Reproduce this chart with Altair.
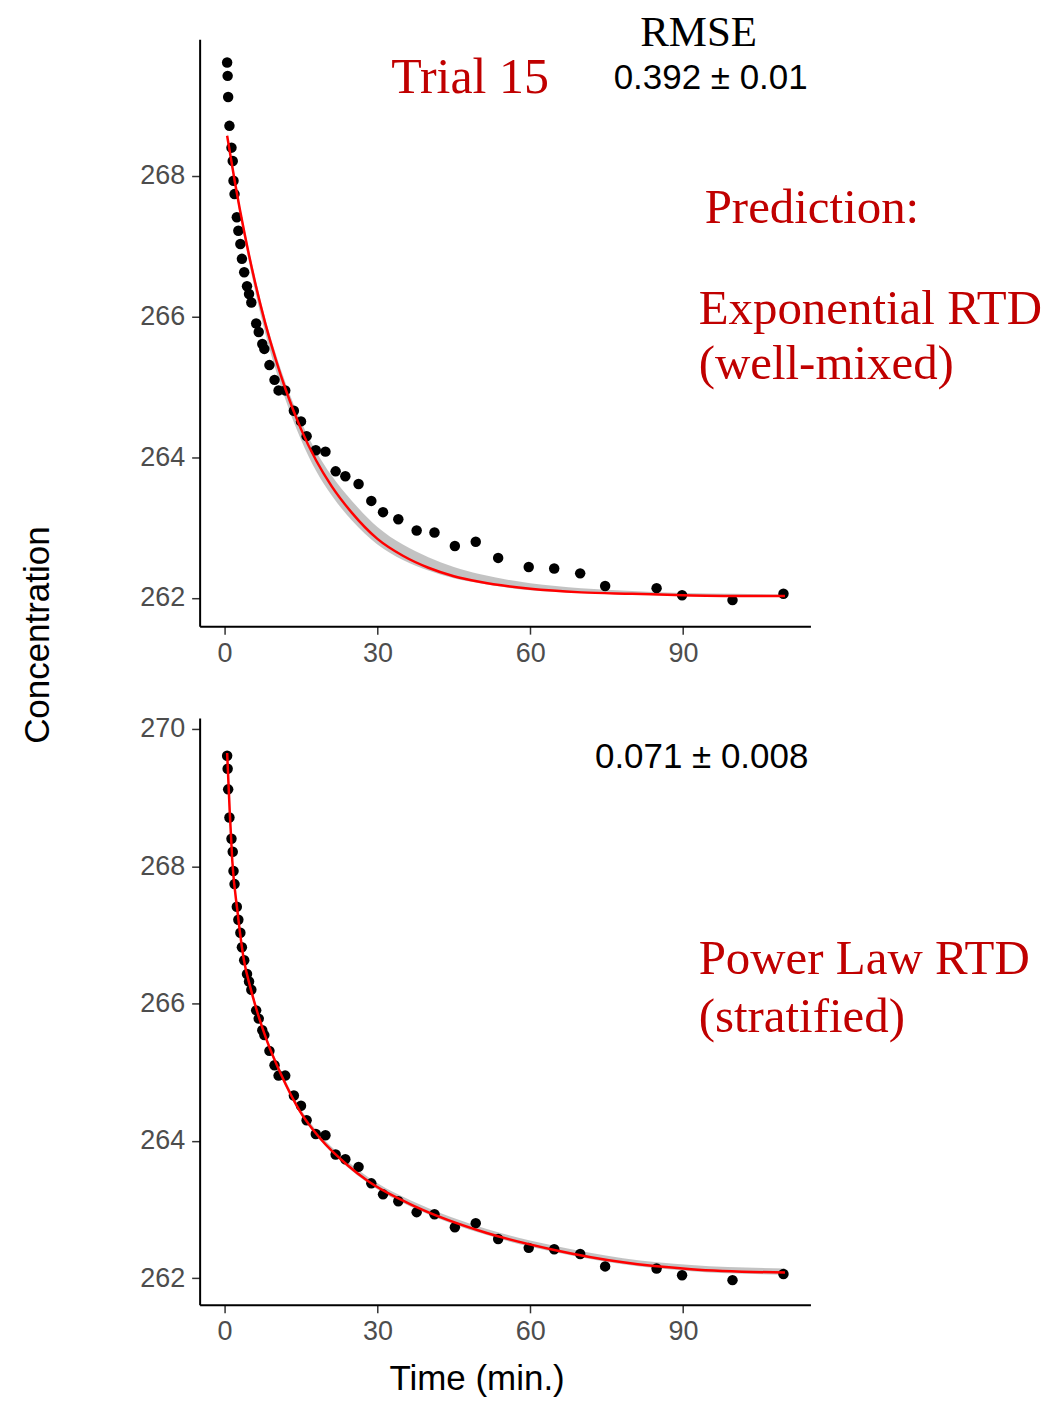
import altair as alt
import pandas as pd

# ---- observed data (same in both panels) ----
time = [0.5, 0.6, 0.7, 0.95, 1.35, 1.6, 1.75, 1.95, 2.4, 2.7, 3.1, 3.4, 3.85, 4.4, 4.8,
        5.25, 6.2, 6.7, 7.4, 7.8, 8.8, 9.8, 10.6, 11.9, 13.6, 15.0, 16.1, 17.9, 19.8,
        21.8, 23.7, 26.3, 28.8, 31.1, 34.1, 37.7, 41.2, 45.2, 49.3, 53.7, 59.7, 64.7,
        69.8, 74.7, 84.8, 89.8, 99.7, 109.7]
conc = [269.61, 269.42, 269.12, 268.71, 268.40, 268.21, 267.93, 267.74, 267.41, 267.22,
        267.03, 266.82, 266.63, 266.43, 266.32, 266.20, 265.90, 265.78, 265.61, 265.54,
        265.31, 265.10, 264.95, 264.95, 264.66, 264.51, 264.30, 264.10, 264.08, 263.80,
        263.73, 263.62, 263.38, 263.22, 263.12, 262.96, 262.93, 262.74, 262.80, 262.57,
        262.44, 262.42, 262.35, 262.17, 262.14, 262.04, 261.97, 262.06]

# ---- exponential RTD prediction (top) ----
exp_t = [0.5, 2, 4, 6, 8, 10, 12, 15, 18, 21, 25, 30, 35, 40, 45, 50, 60, 70, 80, 90, 100, 110]
exp_fit = [268.57, 267.92, 267.15, 266.48, 265.90, 265.40, 264.96, 264.40, 263.95, 263.59,
           263.21, 262.84, 262.60, 262.43, 262.31, 262.23, 262.13, 262.08, 262.06, 262.04,
           262.03, 262.03]
exp_lo = [268.54, 267.86, 267.06, 266.36, 265.76, 265.25, 264.81, 264.25, 263.80, 263.46,
          263.10, 262.76, 262.54, 262.39, 262.28, 262.21, 262.11, 262.07, 262.05, 262.03,
          262.02, 262.02]
exp_hi = [268.60, 267.96, 267.21, 266.55, 265.97, 265.48, 265.05, 264.51, 264.08, 263.74,
          263.38, 263.01, 262.76, 262.58, 262.44, 262.34, 262.21, 262.14, 262.10, 262.07,
          262.06, 262.05]

# ---- power-law RTD prediction (bottom) ----
pow_t = [0.5, 1.0, 1.5, 2.5, 3.8, 5.0, 6.4, 8.3, 11.0, 14.8, 18.7, 24.2, 28.0, 37.8, 51.3,
         64.7, 78.2, 91.6, 110]
pow_fit = [269.65, 268.81, 268.09, 267.36, 266.63, 266.25, 265.88, 265.46, 264.98, 264.43,
           264.04, 263.64, 263.42, 263.03, 262.66, 262.41, 262.23, 262.13, 262.08]
pow_lo = [269.62, 268.78, 268.06, 267.33, 266.60, 266.22, 265.85, 265.43, 264.95, 264.40,
          264.01, 263.61, 263.39, 263.00, 262.63, 262.38, 262.20, 262.10, 262.05]
pow_hi = [269.69, 268.86, 268.14, 267.41, 266.68, 266.30, 265.93, 265.51, 265.03, 264.48,
          264.09, 263.70, 263.48, 263.09, 262.72, 262.47, 262.29, 262.19, 262.14]

x_ticks = [0, 30, 60, 90]
y_ticks_top = [262, 264, 266, 268]
y_ticks_bot = [262, 264, 266, 268, 270]

obs = pd.DataFrame({"t": time, "c": conc})
exp_df = pd.DataFrame({"t": exp_t, "fit": exp_fit, "lo": exp_lo, "hi": exp_hi})
pow_df = pd.DataFrame({"t": pow_t, "fit": pow_fit, "lo": pow_lo, "hi": pow_hi})

W, H = 612, 588
SANS = "Liberation Sans"
SERIF = "Liberation Serif"
RED = "#c00000"

xscale = alt.Scale(domain=[-4.9, 115], nice=False, zero=False)


def xaxis():
    return alt.Axis(values=x_ticks, title=None, grid=False, format="d")


def panel(fit_df, ydomain, yticks):
    yscale = alt.Scale(domain=ydomain, nice=False, zero=False)
    yax = alt.Axis(values=yticks, title=None, grid=False, format="d")
    band = alt.Chart(fit_df).mark_area(color="#bdbdbd", opacity=0.9, interpolate="monotone").encode(
        x=alt.X("t:Q", scale=xscale, axis=xaxis()),
        y=alt.Y("lo:Q", scale=yscale, axis=yax),
        y2="hi:Q",
    )
    pts = alt.Chart(obs).mark_circle(color="black", opacity=1, size=110).encode(
        x=alt.X("t:Q", scale=xscale), y=alt.Y("c:Q", scale=yscale)
    )
    line = alt.Chart(fit_df).mark_line(color="#ff0000", strokeWidth=2.5, interpolate="monotone").encode(
        x=alt.X("t:Q", scale=xscale), y=alt.Y("fit:Q", scale=yscale)
    )
    return [band, pts, line]


def label(txt, x, y, size, color="black", font=SANS, align="left", angle=None):
    kw = dict(fontSize=size, color=color, font=font, align=align, baseline="alphabetic")
    if angle is not None:
        kw["angle"] = angle
        kw["baseline"] = "middle"
    return alt.Chart(pd.DataFrame({"s": [txt]})).mark_text(**kw).encode(
        x=alt.value(x), y=alt.value(y), text="s:N"
    )


top_layers = panel(exp_df, [261.6, 269.94], y_ticks_top) + [
    label("RMSE", 500, 7, 43, font=SERIF, align="center"),
    label("0.392 \u00b1 0.01", 512, 50, 35, align="center"),
    label("Trial 15", 192, 54, 50, color=RED, font=SERIF),
    label("Prediction:", 506, 184, 49, color=RED, font=SERIF),
    label("Exponential RTD", 500, 285, 49, color=RED, font=SERIF),
    label("(well-mixed)", 500, 340, 49, color=RED, font=SERIF),
    label("Concentration", -162, 597, 35, align="center", angle=270),
]
top = alt.layer(*top_layers).properties(width=W, height=H)

bot_layers = panel(pow_df, [261.61, 270.16], y_ticks_bot) + [
    label("0.071 \u00b1 0.008", 503, 50, 35, align="center"),
    label("Power Law RTD", 500, 257, 49, color=RED, font=SERIF),
    label("(stratified)", 500, 315, 49, color=RED, font=SERIF),
    label("Time (min.)", 278, 673, 35, align="center"),
]
bottom = alt.layer(*bot_layers).properties(width=W, height=H)

chart = alt.vconcat(top, bottom, spacing=92, bounds="flush").properties(
    padding={"left": 13, "top": 3, "right": 0, "bottom": 0}
).configure_view(stroke=None).configure_axis(
    domainColor="black",
    domainWidth=2,
    tickColor="#333333",
    tickWidth=1.5,
    tickSize=8,
    labelFont=SANS,
    labelFontSize=27,
    labelColor="#4d4d4d",
    grid=False,
).configure_axisX(labelPadding=6).configure_axisY(labelPadding=7)

chart.save("out.html", embed_options={"renderer": "svg", "actions": False})
